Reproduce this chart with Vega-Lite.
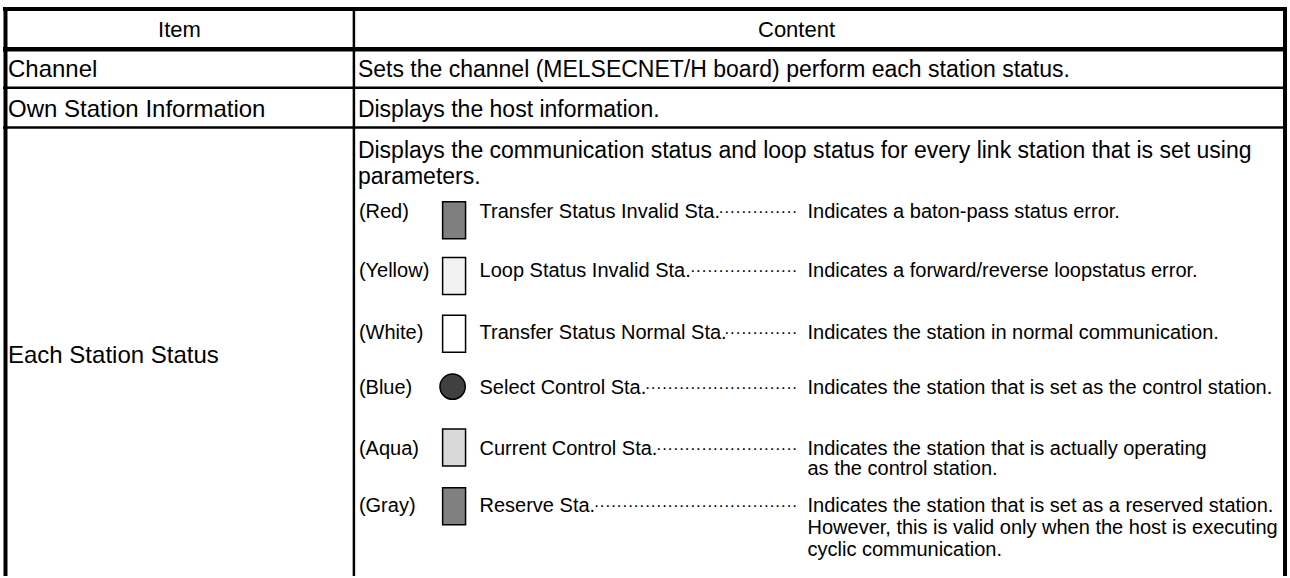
{
  "$schema": "https://vega.github.io/schema/vega-lite/v6.json",
  "width": 1290,
  "height": 578,
  "padding": 0,
  "autosize": {"type": "fit", "contains": "padding"},
  "background": "white",
  "config": {"view": {"stroke": null}, "text": {"font": "Liberation Sans", "color": "black"}},
  "datasets": {
    "lines": [
      {"kind": "outer", "x": 1, "x2": 1289, "y": 9, "y2": 9},
      {"kind": "outer", "x": 3.5, "x2": 3.5, "y": 7, "y2": 578},
      {"kind": "outer", "x": 1287, "x2": 1287, "y": 7, "y2": 578},
      {"kind": "header", "x": 1, "x2": 1289, "y": 49.5, "y2": 49.5},
      {"kind": "inner", "x": 1, "x2": 1289, "y": 88, "y2": 88},
      {"kind": "inner", "x": 1, "x2": 1289, "y": 128, "y2": 128},
      {"kind": "inner", "x": 353, "x2": 353, "y": 9, "y2": 578}
    ],
    "headers": [
      {"text": "Item", "x": 178, "y": 30},
      {"text": "Content", "x": 797, "y": 30}
    ],
    "items": [
      {"text": "Channel", "x": 6, "y": 70},
      {"text": "Own Station Information", "x": 6, "y": 110},
      {"text": "Each Station Status", "x": 6, "y": 357}
    ],
    "body": [
      {"text": "Sets the channel (MELSECNET/H board) perform each station status.", "x": 357, "y": 70},
      {"text": "Displays the host information.", "x": 357, "y": 110},
      {"text": "Displays the communication status and loop status for every link station that is set using", "x": 357, "y": 152},
      {"text": "parameters.", "x": 357, "y": 178}
    ],
    "legend": [
      {"color": "Red", "label": "(Red)", "name": "Transfer Status Invalid Sta.", "leader": "··············", "y": 213, "sy": 221},
      {"color": "Yellow", "label": "(Yellow)", "name": "Loop Status Invalid Sta.", "leader": "···················", "y": 272, "sy": 277},
      {"color": "White", "label": "(White)", "name": "Transfer Status Normal Sta.", "leader": "·············", "y": 334, "sy": 335},
      {"color": "Blue", "label": "(Blue)", "name": "Select Control Sta.", "leader": "···························", "y": 389, "sy": 388},
      {"color": "Aqua", "label": "(Aqua)", "name": "Current Control Sta.", "leader": "·························", "y": 451, "sy": 449},
      {"color": "Gray", "label": "(Gray)", "name": "Reserve Sta.", "leader": "····································", "y": 508, "sy": 508}
    ],
    "descriptions": [
      {"text": "Indicates a baton-pass status error.", "y": 213},
      {"text": "Indicates a forward/reverse loopstatus error.", "y": 272},
      {"text": "Indicates the station in normal communication.", "y": 334},
      {"text": "Indicates the station that is set as the control station.", "y": 389},
      {"text": "Indicates the station that is actually operating", "y": 451},
      {"text": "as the control station.", "y": 471},
      {"text": "Indicates the station that is set as a reserved station.", "y": 508},
      {"text": "However, this is valid only when the host is executing", "y": 530},
      {"text": "cyclic communication.", "y": 552}
    ]
  },
  "layer": [
    {
      "data": {"name": "lines"},
      "transform": [{"filter": "datum.kind === 'outer'"}],
      "mark": {"type": "rule", "strokeWidth": 4, "color": "black"},
      "encoding": {
        "x": {"field": "x", "type": "quantitative", "scale": {"domain": [0, 1290], "nice": false, "zero": false}, "axis": null},
        "x2": {"field": "x2"},
        "y": {"field": "y", "type": "quantitative", "scale": {"domain": [0, 578], "nice": false, "zero": false, "reverse": true}, "axis": null},
        "y2": {"field": "y2"}
      }
    },
    {
      "data": {"name": "lines"},
      "transform": [{"filter": "datum.kind === 'header'"}],
      "mark": {"type": "rule", "strokeWidth": 4.5, "color": "black"},
      "encoding": {
        "x": {"field": "x", "type": "quantitative"},
        "x2": {"field": "x2"},
        "y": {"field": "y", "type": "quantitative"},
        "y2": {"field": "y2"}
      }
    },
    {
      "data": {"name": "lines"},
      "transform": [{"filter": "datum.kind === 'inner'"}],
      "mark": {"type": "rule", "strokeWidth": 2.5, "color": "black"},
      "encoding": {
        "x": {"field": "x", "type": "quantitative"},
        "x2": {"field": "x2"},
        "y": {"field": "y", "type": "quantitative"},
        "y2": {"field": "y2"}
      }
    },
    {
      "data": {"name": "headers"},
      "mark": {"type": "text", "align": "center", "baseline": "middle", "fontSize": 22},
      "encoding": {
        "x": {"field": "x", "type": "quantitative"},
        "y": {"field": "y", "type": "quantitative"},
        "text": {"field": "text"}
      }
    },
    {
      "data": {"name": "items"},
      "mark": {"type": "text", "align": "left", "baseline": "middle", "fontSize": 24},
      "encoding": {
        "x": {"field": "x", "type": "quantitative"},
        "y": {"field": "y", "type": "quantitative"},
        "text": {"field": "text"}
      }
    },
    {
      "data": {"name": "body"},
      "mark": {"type": "text", "align": "left", "baseline": "middle", "fontSize": 23},
      "encoding": {
        "x": {"field": "x", "type": "quantitative"},
        "y": {"field": "y", "type": "quantitative"},
        "text": {"field": "text"}
      }
    },
    {
      "data": {"name": "legend"},
      "transform": [{"filter": "datum.color !== 'Blue'"}],
      "mark": {"type": "point", "filled": true, "opacity": 1, "stroke": "black", "strokeWidth": 1.5, "size": 1369, "shape": "M-0.62,-1H0.62V1H-0.62Z"},
      "encoding": {
        "x": {"datum": 453.5, "type": "quantitative"},
        "y": {"field": "sy", "type": "quantitative"},
        "fill": {"field": "color", "type": "nominal", "legend": null,
          "scale": {"domain": ["Red", "Yellow", "White", "Blue", "Aqua", "Gray"], "range": ["#7f7f7f", "#f2f2f2", "#ffffff", "#404040", "#d9d9d9", "#808080"]}}
      }
    },
    {
      "data": {"name": "legend"},
      "transform": [{"filter": "datum.color === 'Blue'"}],
      "mark": {"type": "point", "filled": true, "opacity": 1, "stroke": "black", "strokeWidth": 1.5, "size": 640, "shape": "circle"},
      "encoding": {
        "x": {"datum": 452, "type": "quantitative"},
        "y": {"field": "sy", "type": "quantitative"},
        "fill": {"field": "color", "type": "nominal", "legend": null}
      }
    },
    {
      "data": {"name": "legend"},
      "mark": {"type": "text", "align": "left", "baseline": "middle", "fontSize": 20},
      "encoding": {
        "x": {"datum": 358, "type": "quantitative"},
        "y": {"field": "y", "type": "quantitative"},
        "text": {"field": "label"}
      }
    },
    {
      "data": {"name": "legend"},
      "mark": {"type": "text", "align": "left", "baseline": "middle", "fontSize": 20},
      "encoding": {
        "x": {"datum": 479, "type": "quantitative"},
        "y": {"field": "y", "type": "quantitative"},
        "text": {"field": "name"}
      }
    },
    {
      "data": {"name": "legend"},
      "mark": {"type": "text", "align": "right", "baseline": "middle", "fontSize": 17},
      "encoding": {
        "x": {"datum": 798, "type": "quantitative"},
        "y": {"field": "y", "type": "quantitative"},
        "text": {"field": "leader"}
      }
    },
    {
      "data": {"name": "descriptions"},
      "mark": {"type": "text", "align": "left", "baseline": "middle", "fontSize": 20},
      "encoding": {
        "x": {"datum": 808, "type": "quantitative"},
        "y": {"field": "y", "type": "quantitative"},
        "text": {"field": "text"}
      }
    }
  ]
}
